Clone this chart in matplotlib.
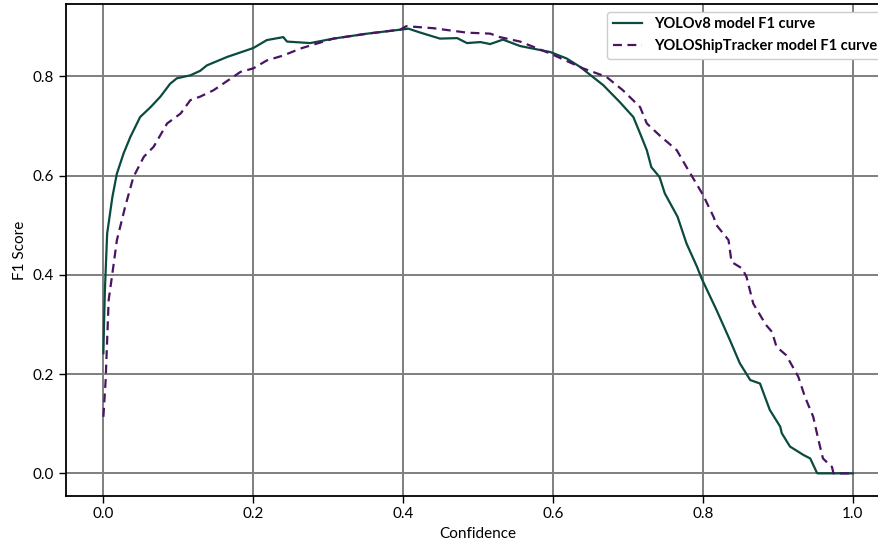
import matplotlib
matplotlib.use('Agg')
import matplotlib.pyplot as plt

plt.rcParams['font.family'] = ['Lato', 'DejaVu Sans']

# YOLOv8 F1 curve
v8_conf = [0.0, 0.0008, 0.002, 0.005, 0.012, 0.018, 0.027, 0.036, 0.049, 0.063,
           0.076, 0.089, 0.098, 0.116, 0.129, 0.138, 0.165, 0.2, 0.218, 0.24,
           0.245, 0.276, 0.307, 0.352, 0.396, 0.407, 0.423, 0.449, 0.472, 0.485,
           0.503, 0.516, 0.533, 0.556, 0.596, 0.618, 0.636, 0.667, 0.689, 0.707,
           0.716, 0.725, 0.731, 0.742, 0.749, 0.766, 0.778, 0.792, 0.798, 0.818,
           0.836, 0.849, 0.863, 0.876, 0.889, 0.903, 0.905, 0.916, 0.934, 0.943,
           0.952, 0.953, 1.0]
v8_f1 = [0.242, 0.30, 0.369, 0.483, 0.557, 0.604, 0.645, 0.678, 0.718, 0.738,
         0.759, 0.785, 0.796, 0.802, 0.811, 0.822, 0.839, 0.857, 0.873, 0.879,
         0.870, 0.867, 0.876, 0.886, 0.894, 0.896, 0.888, 0.876, 0.877, 0.867,
         0.869, 0.865, 0.874, 0.861, 0.849, 0.836, 0.819, 0.782, 0.748, 0.718,
         0.685, 0.651, 0.617, 0.597, 0.564, 0.517, 0.463, 0.416, 0.393, 0.329,
         0.268, 0.222, 0.188, 0.181, 0.128, 0.094, 0.081, 0.054, 0.037, 0.030,
         0.001, 0.0, 0.0]

# YOLOShipTracker F1 curve
st_conf = [0.0, 0.003, 0.007, 0.012, 0.018, 0.029, 0.040, 0.054, 0.067, 0.085,
           0.103, 0.116, 0.129, 0.147, 0.183, 0.2, 0.218, 0.24, 0.263, 0.276,
           0.307, 0.352, 0.396, 0.404, 0.44, 0.485, 0.516, 0.529, 0.556, 0.596,
           0.64, 0.671, 0.693, 0.716, 0.725, 0.742, 0.765, 0.778, 0.80, 0.814,
           0.818, 0.834, 0.838, 0.852, 0.858, 0.867, 0.884, 0.892, 0.898, 0.911,
           0.927, 0.936, 0.947, 0.954, 0.960, 0.972, 0.974, 1.0]
st_f1 = [0.114, 0.188, 0.349, 0.403, 0.47, 0.537, 0.597, 0.638, 0.658, 0.705,
         0.725, 0.752, 0.759, 0.772, 0.809, 0.816, 0.832, 0.842, 0.856, 0.862,
         0.876, 0.886, 0.894, 0.901, 0.897, 0.888, 0.886, 0.879, 0.870, 0.846,
         0.816, 0.799, 0.772, 0.738, 0.705, 0.681, 0.651, 0.617, 0.561, 0.517,
         0.5, 0.47, 0.426, 0.413, 0.396, 0.342, 0.299, 0.285, 0.255, 0.238,
         0.195, 0.154, 0.114, 0.067, 0.030, 0.013, 0.0, 0.0]

fig = plt.figure(figsize=(8.79, 5.45), dpi=100)
ax = fig.add_axes([0.075, 0.0905, 0.938, 0.9015])

ax.plot(v8_conf, v8_f1, color='#0b4a3e', lw=1.6, label='YOLOv8 model F1 curve')
ax.plot(st_conf, st_f1, color='#4a1464', lw=1.6, ls=(0, (4, 2.5)),
        label='YOLOShipTracker model F1 curve')

ax.set_xlim(-0.05, 1.05)
ax.set_ylim(-0.045, 0.945)
ax.set_xticks([0.0, 0.2, 0.4, 0.6, 0.8, 1.0])
ax.set_yticks([0.0, 0.2, 0.4, 0.6, 0.8])
ax.grid(True, color='#7f7f7f', lw=1.4)
ax.set_axisbelow(True)
ax.tick_params(labelsize=11, length=5, width=1)
for s in ax.spines.values():
    s.set_linewidth(1.3)
ax.set_xlabel('Confidence', fontsize=11)
ax.set_ylabel('F1 Score', fontsize=11)

leg = ax.legend(loc='upper right', fontsize=10.5, framealpha=1,
                edgecolor='#cccccc', fancybox=True)
for t in leg.get_texts():
    t.set_fontweight('bold')

plt.savefig('out.png', dpi=100)
